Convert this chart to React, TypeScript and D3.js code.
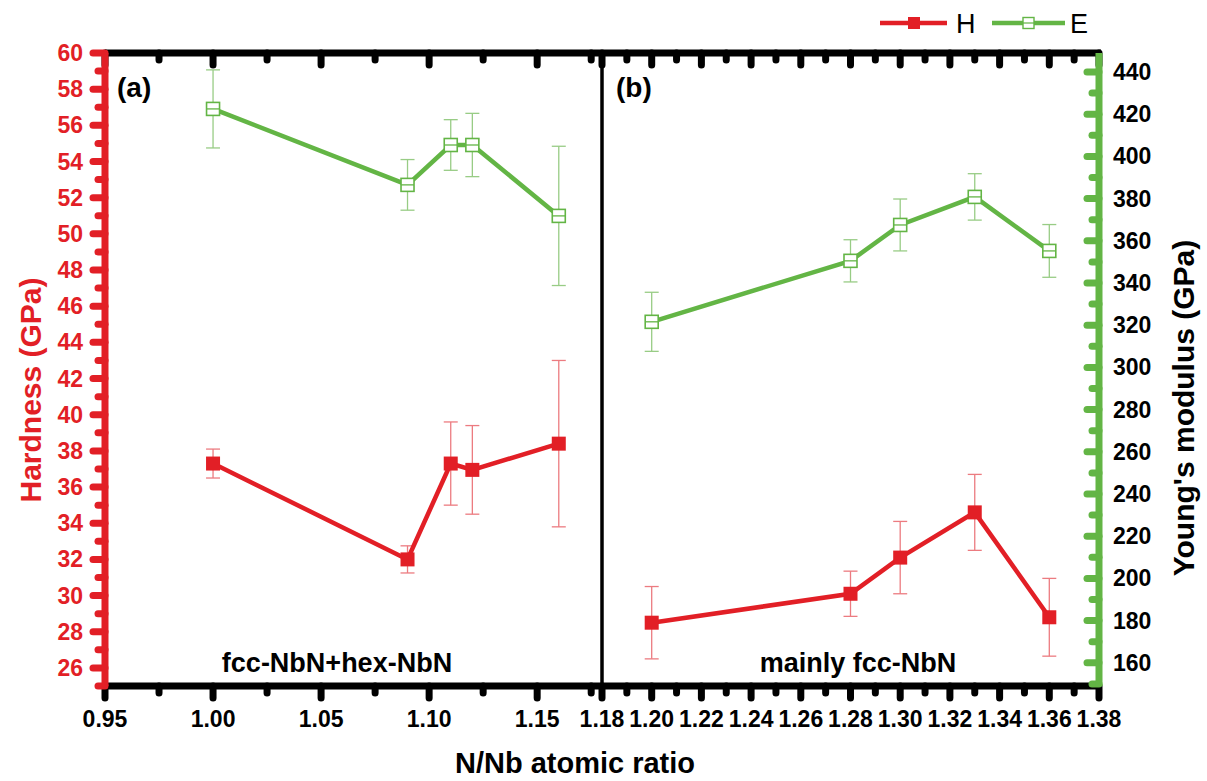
import React, { useRef, useEffect } from 'react';
import * as d3 from 'd3';

// panel (a): fcc-NbN + hex-NbN
const ratioA = [1.0, 1.09, 1.11, 1.12, 1.16];
const hardA = [37.3, 32.0, 37.3, 36.95, 38.4];
const hardErrA = [0.8, 0.75, 2.3, 2.45, 4.6];
const modA = [422.5, 386.5, 405.4, 405.4, 371.8];
const modErrA = [18.5, 12, 12, 15, 33];

// panel (b): mainly fcc-NbN
const ratioB = [1.2, 1.28, 1.3, 1.33, 1.36];
const hardB = [28.5, 30.1, 32.1, 34.6, 28.8];
const hardErrB = [2.0, 1.25, 2.0, 2.1, 2.15];
const modB = [321.6, 350.5, 367.5, 380.8, 355.2];
const modErrB = [14, 10, 12.3, 11, 12.5];

const xTicksA = [0.95, 1.0, 1.05, 1.1, 1.15];
const xMinorA = [0.975, 1.025, 1.075, 1.125, 1.175];
const xTicksB = [1.18, 1.2, 1.22, 1.24, 1.26, 1.28, 1.3, 1.32, 1.34, 1.36, 1.38];
const xMinorB = [1.19, 1.21, 1.23, 1.25, 1.27, 1.29, 1.31, 1.33, 1.35, 1.37];
const hTicks = [26, 28, 30, 32, 34, 36, 38, 40, 42, 44, 46, 48, 50, 52, 54, 56, 58, 60];
const hMinor = [25, 27, 29, 31, 33, 35, 37, 39, 41, 43, 45, 47, 49, 51, 53, 55, 57, 59];
const eTicks = [160, 180, 200, 220, 240, 260, 280, 300, 320, 340, 360, 380, 400, 420, 440];
const eMinor = [150, 170, 190, 210, 230, 250, 270, 290, 310, 330, 350, 370, 390, 410, 430];

const RED = '#e21f26';
const RED_ERR = '#ec7b80';
const GREEN = '#63b545';
const GREEN_ERR = '#98cc85';
const FONT = 'Liberation Sans, Arial, Helvetica, sans-serif';

const App = () => {
  const ref = useRef<SVGSVGElement>(null);

  useEffect(() => {
    const svg = d3.select(ref.current);
    svg.selectAll('*').remove();

    const left = 105;
    const mid = 602;
    const right = 1099;
    const top = 53;
    const bottom = 686;

    const xa = d3.scaleLinear().domain([0.95, 1.18]).range([left, mid]);
    const xb = d3.scaleLinear().domain([1.18, 1.38]).range([mid, right]);
    const yH = d3.scaleLinear().domain([25, 60]).range([bottom, top]);
    const yE = d3.scaleLinear().domain([149, 449]).range([bottom, top]);

    const g = svg.append('g');

    // divider between panels
    g.append('line')
      .attr('x1', mid).attr('x2', mid)
      .attr('y1', top).attr('y2', bottom)
      .attr('stroke', '#000').attr('stroke-width', 3.5);

    const tickLine = (sel, x1, y1, x2, y2, color, w) =>
      sel.append('line')
        .attr('x1', x1).attr('y1', y1).attr('x2', x2).attr('y2', y2)
        .attr('stroke', color).attr('stroke-width', w).attr('stroke-linecap', 'round');

    // top and bottom axes
    const axes = g.append('g');
    const xs = [
      ...xTicksA.map((v) => ({ x: xa(v), major: true })),
      ...xMinorA.map((v) => ({ x: xa(v), major: false })),
      ...xTicksB.map((v) => ({ x: xb(v), major: true })),
      ...xMinorB.map((v) => ({ x: xb(v), major: false })),
    ];
    xs.forEach((t) => {
      const len = t.major ? 12 : 7;
      tickLine(axes, t.x, bottom, t.x, bottom + len, '#000', 7);
      tickLine(axes, t.x, top, t.x, top + len, '#000', 7);
    });
    axes.append('line').attr('x1', left).attr('x2', right + 2)
      .attr('y1', bottom).attr('y2', bottom).attr('stroke', '#000').attr('stroke-width', 7);
    axes.append('line').attr('x1', left).attr('x2', right + 2)
      .attr('y1', top).attr('y2', top).attr('stroke', '#000').attr('stroke-width', 7);

    const xLabels = g.append('g')
      .attr('font-family', FONT).attr('font-weight', 'bold')
      .attr('font-size', 23).attr('text-anchor', 'middle');
    xTicksA.forEach((v) => {
      xLabels.append('text').attr('x', xa(v)).attr('y', 727).text(d3.format('.2f')(v));
    });
    xTicksB.forEach((v) => {
      xLabels.append('text').attr('x', xb(v)).attr('y', 727).text(d3.format('.2f')(v));
    });

    // left axis (hardness)
    const la = g.append('g');
    hTicks.forEach((v) => tickLine(la, left, yH(v), left - 12, yH(v), RED, 7));
    hMinor.forEach((v) => tickLine(la, left, yH(v), left - 7, yH(v), RED, 7));
    la.append('line').attr('x1', left).attr('x2', left)
      .attr('y1', top).attr('y2', bottom).attr('stroke', RED).attr('stroke-width', 7);
    hTicks.forEach((v) => {
      la.append('text')
        .attr('x', 83).attr('y', yH(v) + 8)
        .attr('text-anchor', 'end')
        .attr('font-family', FONT).attr('font-weight', 'bold').attr('font-size', 23)
        .attr('fill', RED)
        .text(v);
    });

    // right axis (Young's modulus)
    const ra = g.append('g');
    eTicks.forEach((v) => tickLine(ra, right, yE(v), right - 12, yE(v), GREEN, 7));
    eMinor.forEach((v) => tickLine(ra, right, yE(v), right - 7, yE(v), GREEN, 7));
    ra.append('line').attr('x1', right).attr('x2', right)
      .attr('y1', top).attr('y2', bottom).attr('stroke', GREEN).attr('stroke-width', 7);
    eTicks.forEach((v) => {
      ra.append('text')
        .attr('x', 1113).attr('y', yE(v) + 8)
        .attr('font-family', FONT).attr('font-weight', 'bold').attr('font-size', 23)
        .attr('fill', '#000')
        .text(v);
    });

    // axis titles
    g.append('text')
      .attr('transform', 'translate(41,390) rotate(-90)')
      .attr('text-anchor', 'middle')
      .attr('font-family', FONT).attr('font-weight', 'bold').attr('font-size', 30)
      .attr('fill', RED)
      .text('Hardness (GPa)');
    g.append('text')
      .attr('transform', 'translate(1194,408) rotate(-90)')
      .attr('text-anchor', 'middle')
      .attr('font-family', FONT).attr('font-weight', 'bold').attr('font-size', 30)
      .attr('fill', '#000')
      .text("Young's modulus (GPa)");
    g.append('text')
      .attr('x', 575).attr('y', 773)
      .attr('text-anchor', 'middle')
      .attr('font-family', FONT).attr('font-weight', 'bold').attr('font-size', 29)
      .text('N/Nb atomic ratio');

    // panel texts
    const pt = g.append('g').attr('font-family', FONT).attr('font-weight', 'bold');
    pt.append('text').attr('x', 117).attr('y', 97).attr('font-size', 28).text('(a)');
    pt.append('text').attr('x', 616).attr('y', 97).attr('font-size', 28).text('(b)');
    pt.append('text').attr('x', 337).attr('y', 672).attr('font-size', 27)
      .attr('text-anchor', 'middle').text('fcc-NbN+hex-NbN');
    pt.append('text').attr('x', 858).attr('y', 672).attr('font-size', 27)
      .attr('text-anchor', 'middle').text('mainly fcc-NbN');

    // series
    const drawSeries = (xs, x, ys, errs, y, color, errColor, filled) => {
      const pts = xs.map((v, i) => ({ x: x(v), y: y(ys[i]), hi: y(ys[i] + errs[i]), lo: y(ys[i] - errs[i]) }));
      const s = g.append('g');
      pts.forEach((p) => {
        s.append('line').attr('x1', p.x).attr('x2', p.x).attr('y1', Math.max(p.hi, top)).attr('y2', p.lo)
          .attr('stroke', errColor).attr('stroke-width', 1.3);
        [p.hi, p.lo].forEach((yy) => {
          if (yy >= top + 3) {
            s.append('line').attr('x1', p.x - 7).attr('x2', p.x + 7).attr('y1', yy).attr('y2', yy)
              .attr('stroke', errColor).attr('stroke-width', 1.3);
          }
        });
      });
      s.append('path')
        .attr('d', d3.line().x((d) => d.x).y((d) => d.y)(pts))
        .attr('fill', 'none').attr('stroke', color).attr('stroke-width', 4.5);
      pts.forEach((p) => {
        if (filled) {
          s.append('rect').attr('x', p.x - 7).attr('y', p.y - 7).attr('width', 14).attr('height', 14)
            .attr('fill', color);
        } else {
          s.append('rect').attr('x', p.x - 6.5).attr('y', p.y - 6.5).attr('width', 13).attr('height', 13)
            .attr('fill', '#fff').attr('stroke', color).attr('stroke-width', 1.6);
          s.append('line').attr('x1', p.x - 6.5).attr('x2', p.x + 6.5).attr('y1', p.y).attr('y2', p.y)
            .attr('stroke', color).attr('stroke-width', 1.3);
        }
      });
    };

    drawSeries(ratioA, xa, modA, modErrA, yE, GREEN, GREEN_ERR, false);
    drawSeries(ratioB, xb, modB, modErrB, yE, GREEN, GREEN_ERR, false);
    drawSeries(ratioA, xa, hardA, hardErrA, yH, RED, RED_ERR, true);
    drawSeries(ratioB, xb, hardB, hardErrB, yH, RED, RED_ERR, true);

    // legend
    const lg = g.append('g').attr('font-family', FONT).attr('font-size', 27);
    lg.append('line').attr('x1', 880).attr('x2', 947).attr('y1', 23).attr('y2', 23)
      .attr('stroke', RED).attr('stroke-width', 4.5);
    lg.append('rect').attr('x', 908).attr('y', 17).attr('width', 12).attr('height', 12).attr('fill', RED);
    lg.append('text').attr('x', 956).attr('y', 33).text('H');
    lg.append('line').attr('x1', 992).attr('x2', 1065).attr('y1', 23).attr('y2', 23)
      .attr('stroke', GREEN).attr('stroke-width', 4.5);
    lg.append('rect').attr('x', 1023).attr('y', 17.5).attr('width', 11).attr('height', 11)
      .attr('fill', '#fff').attr('stroke', GREEN).attr('stroke-width', 1.4);
    lg.append('line').attr('x1', 1023).attr('x2', 1034).attr('y1', 23).attr('y2', 23)
      .attr('stroke', GREEN).attr('stroke-width', 1.2);
    lg.append('text').attr('x', 1070).attr('y', 33).text('E');
  }, []);

  return (
    <svg
      ref={ref}
      width={1207}
      height={781}
      style={{ position: 'absolute', left: 0, top: 0, background: '#fff' }}
    ></svg>
  );
};

export default App;
